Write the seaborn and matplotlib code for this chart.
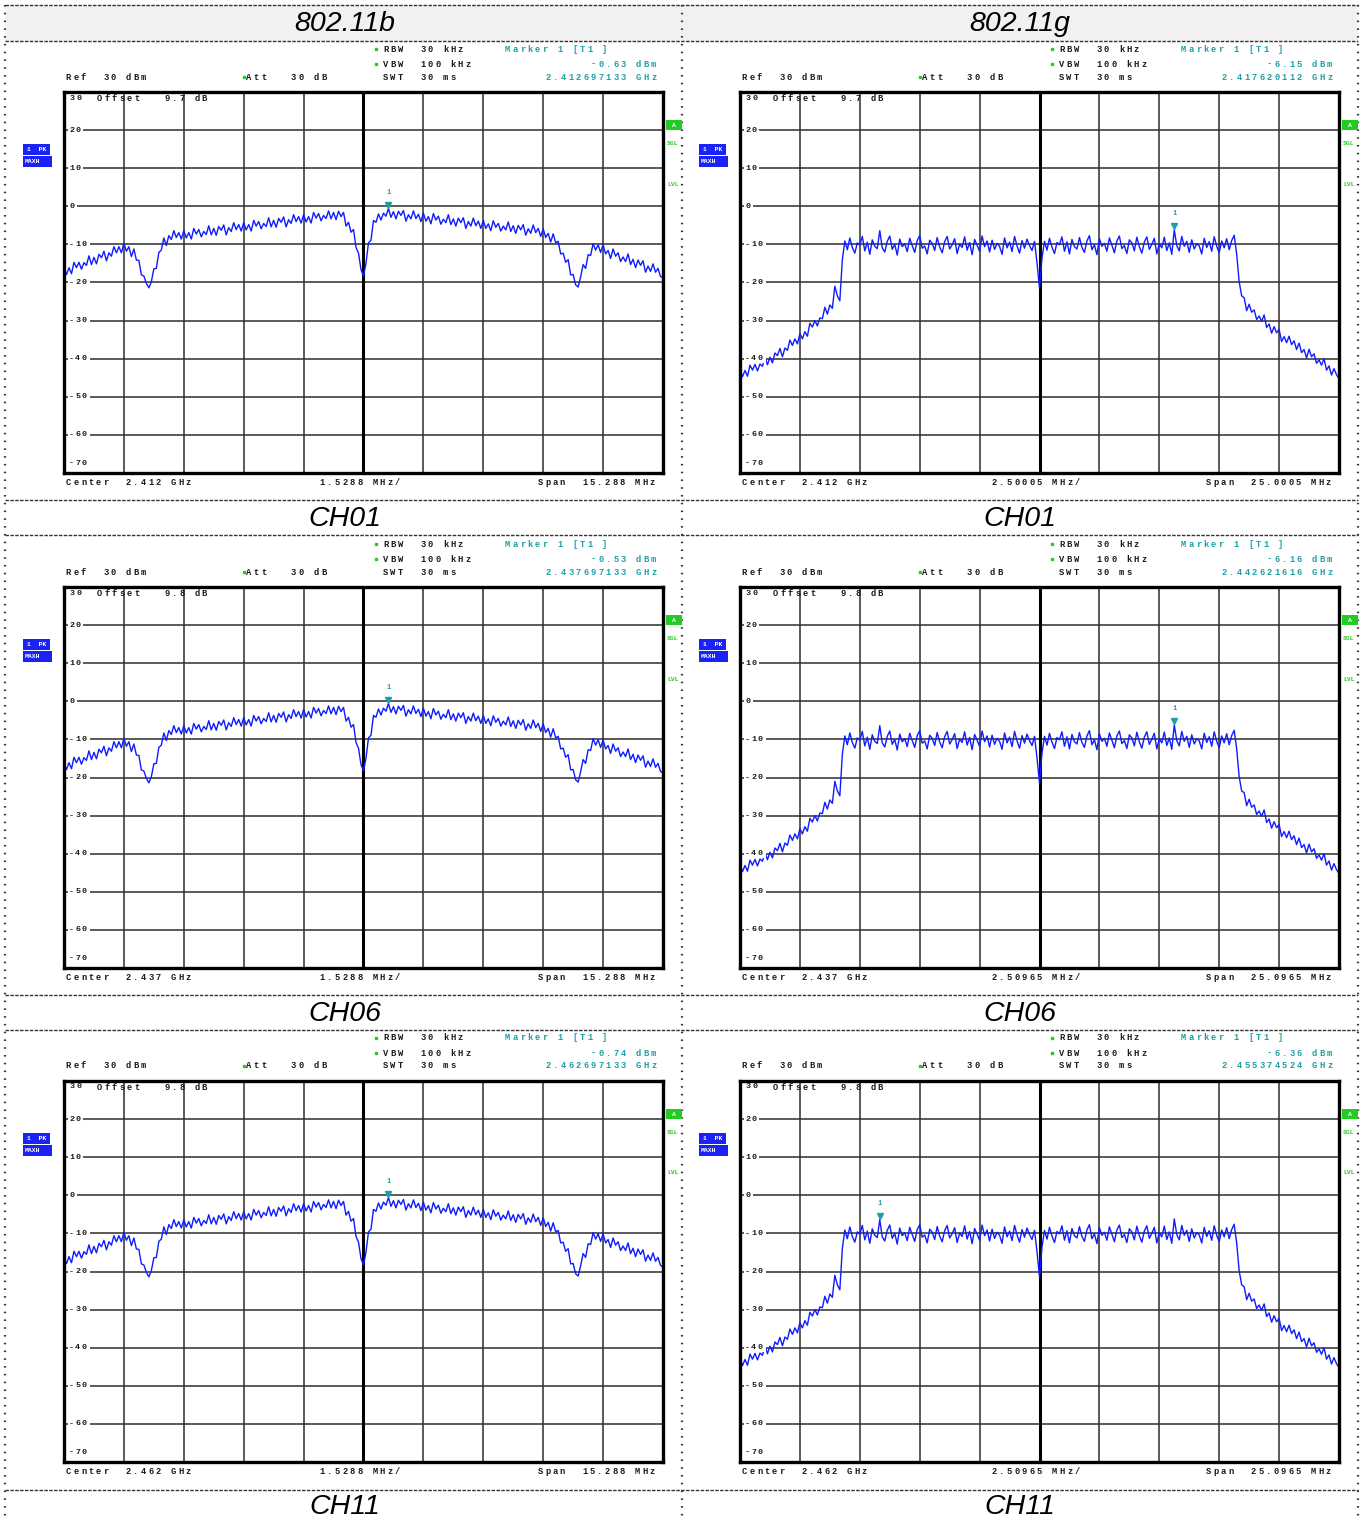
import numpy as np
import matplotlib
matplotlib.use("Agg")
import matplotlib.pyplot as plt
from matplotlib.patches import Rectangle
import seaborn as sns

sns.set_style("white")
plt.rcParams["font.family"] = ["DejaVu Sans"]

W, H = 1362, 1517

# --- data (dBm, evenly spaced over the span) ---
modes = ["802.11b", "802.11g"]
channels = ["CH01", "CH06", "CH11"]
centers = ["2.412", "2.437", "2.462"]

b_trace = [
    -16.4, -17.9, -16.1, -17.7, -14.7, -16.1, -14.7, -16.5, -14.8, -15.5,
    -13.0, -15.3, -13.4, -15.1, -12.6, -13.5, -11.8, -14.3, -12.2, -13.1,
    -10.6, -12.2, -10.6, -12.2, -9.7, -11.8, -10.6, -13.2, -11.2, -14.1,
    -14.2, -18.0, -18.3, -20.2, -21.4, -19.8, -16.4, -16.3, -12.1, -11.5,
    -8.3, -10.3, -7.7, -8.7, -6.4, -8.2, -6.9, -8.6, -6.4, -8.3,
    -6.9, -8.6, -5.8, -7.3, -6.1, -8.0, -6.6, -7.4, -5.1, -7.5,
    -5.8, -7.6, -5.3, -6.3, -4.9, -7.5, -5.6, -6.6, -4.3, -6.1,
    -4.8, -6.5, -4.3, -6.2, -4.8, -6.5, -3.7, -5.2, -4.0, -5.9,
    -4.5, -5.3, -3.0, -5.4, -3.7, -5.5, -3.2, -4.2, -2.8, -5.4,
    -3.5, -4.5, -2.2, -4.0, -2.7, -4.4, -2.2, -4.1, -2.7, -4.4,
    -1.6, -3.1, -1.9, -3.8, -2.4, -3.2, -1.2, -3.3, -1.6, -3.5,
    -1.3, -2.7, -1.6, -5.2, -4.2, -6.8, -6.1, -10.8, -12.3, -16.6,
    -18.3, -14.9, -9.6, -8.9, -3.7, -4.2, -2.0, -3.6, -1.8, -2.6,
    -0.6, -2.9, -1.4, -3.3, -1.3, -2.4, -1.1, -3.9, -2.2, -3.3,
    -1.2, -3.2, -2.1, -4.0, -1.8, -3.9, -2.7, -4.6, -1.9, -3.6,
    -2.6, -4.7, -3.4, -4.3, -2.2, -4.8, -3.3, -5.2, -3.1, -4.3,
    -3.0, -5.8, -4.0, -5.2, -3.1, -5.1, -3.9, -5.8, -3.7, -5.8,
    -4.6, -6.4, -3.8, -5.5, -4.5, -6.5, -5.2, -6.2, -4.1, -6.6,
    -5.1, -7.1, -5.0, -6.2, -4.8, -7.6, -5.9, -7.1, -4.9, -6.9,
    -5.8, -7.9, -5.9, -8.2, -7.1, -9.4, -7.2, -9.6, -9.2, -12.5,
    -12.3, -14.7, -14.0, -18.0, -17.9, -20.6, -21.2, -18.5, -15.3, -16.3,
    -12.7, -12.9, -9.8, -11.5, -10.1, -12.1, -10.1, -12.5, -11.6, -13.7,
    -11.2, -13.1, -12.2, -14.5, -13.3, -14.5, -12.5, -15.3, -13.9, -16.1,
    -14.1, -15.5, -14.3, -17.3, -15.7, -17.1, -15.1, -17.3, -16.3, -18.4,
    -18.8]

g_trace = [
    -42.9, -44.7, -43.1, -44.6, -41.7, -43.0, -41.5, -43.2, -41.4, -42.0,
    -39.5, -41.6, -39.6, -41.1, -38.5, -39.2, -37.3, -39.5, -37.2, -37.8,
    -35.1, -36.5, -34.8, -36.1, -33.4, -34.8, -32.9, -34.1, -30.7, -31.7,
    -30.0, -31.4, -29.3, -29.5, -26.5, -28.3, -25.9, -26.8, -21.0, -23.5,
    -24.8, -14.0,
    -9.1, -11.4, -8.3, -10.8, -12.3, -9.6, -10.2, -7.9, -11.7, -9.4,
    -12.6, -8.8, -10.5, -11.1, -6.4, -10.9, -12.0, -9.2, -7.8, -11.3,
    -10.0, -12.8, -8.6, -10.6, -9.8, -11.9, -8.4, -10.3, -12.1, -9.0,
    -7.7, -11.0, -10.4, -12.5, -8.9, -9.7, -11.6, -8.2, -10.7, -12.2,
    -9.3, -7.9, -11.2, -10.1, -8.5, -12.4, -9.9, -10.8, -8.0, -11.5,
    -9.5, -12.7, -8.7, -10.2, -11.8, -7.8, -10.6, -9.1, -12.0, -8.9,
    -11.3, -9.7, -10.5, -12.6, -8.3, -10.9, -9.4, -11.9, -7.9, -10.4,
    -12.3, -9.0, -11.0, -8.6, -10.3, -11.6, -9.2,
    -14.8, -21.5, -13.6,
    -9.2, -11.5, -8.4, -10.7, -12.4, -9.5, -10.1, -8.0, -11.8, -9.3,
    -12.5, -8.7, -10.6, -11.2, -8.2, -10.8, -12.1, -9.1, -7.7, -11.4,
    -10.1, -12.7, -8.5, -10.5, -9.7, -11.8, -8.3, -10.2, -12.2, -9.1,
    -7.8, -11.1, -10.3, -12.4, -8.8, -9.6, -11.7, -8.1, -10.6, -12.3,
    -9.4, -8.0, -11.3, -10.0, -8.4, -12.5, -9.8, -10.9, -8.1, -11.6,
    -9.6, -12.6, -6.2, -10.3, -11.7, -7.9, -10.5, -9.2, -12.1, -8.8,
    -11.2, -9.8, -10.4, -12.5, -8.4, -10.8, -9.3, -11.8, -8.0, -10.5,
    -12.2, -9.1, -10.9, -8.5, -11.4, -9.0,
    -7.6, -12.5, -19.8,
    -23.5, -24.0, -27.4, -25.7, -27.8, -27.2, -29.7, -28.8, -30.2, -28.5,
    -31.8, -30.9, -33.3, -31.6, -33.2, -32.3, -35.5, -34.2, -35.8, -34.1,
    -36.3, -35.3, -37.6, -35.9, -38.4, -37.6, -39.8, -37.5, -39.5, -38.7,
    -41.2, -40.3, -41.7, -40.0, -43.0, -41.9, -44.3, -42.6, -44.2, -45.2]

b_span = ["15.288", "15.288", "15.288"]
b_div = ["1.5288", "1.5288", "1.5288"]
g_span = ["25.0005", "25.0965", "25.0965"]
g_div = ["2.50005", "2.50965", "2.50965"]
offsets = ["9.7", "9.8", "9.8"]

b_mark_idx = [130, 130, 130]
g_mark_idx = [174, 174, 56]
b_mark_level = ["-0.63", "-0.53", "-0.74"]
g_mark_level = ["-6.15", "-6.16", "-6.36"]
b_mark_freq = ["2.412697133", "2.437697133", "2.462697133"]
g_mark_freq = ["2.417620112", "2.442621616", "2.455374524"]

BLUE = "#0f1cff"
TEAL = "#1c9fa6"
GREEN = "#22cc22"
INK = "#1a1a1a"

fig = plt.figure(figsize=(W / 100, H / 100), dpi=100)


def frac(x0, y0, x1, y1):
    return [x0 / W, 1 - y1 / H, (x1 - x0) / W, (y1 - y0) / H]


# background: table lines, header, captions
bg = fig.add_axes([0, 0, 1, 1])
bg.set_xlim(0, W)
bg.set_ylim(H, 0)
bg.axis("off")
bg.add_patch(Rectangle((5, 5), 1353, 36, color="#f1f1f1", lw=0))
for y in [5, 41, 500, 535, 995, 1030, 1490]:
    bg.plot([5, 1358], [y, y], color="#333333", lw=1, ls=(0, (2.5, 1)))
for x in [5, 682, 1358]:
    bg.plot([x, x], [5, H], color="#333333", lw=1.6, ls=(0, (0.7, 2.8)))

title_font = dict(ha="center", va="center", fontsize=20.5, style="italic",
                  family="Liberation Sans", color="black")
bg.text(345, 24, modes[0], **title_font)
bg.text(1020, 24, modes[1], **title_font)
for r, ch in enumerate(channels):
    for cx in [345, 1020]:
        bg.text(cx, [519, 1014, 1507][r], ch, **title_font)

tops = [92, 587, 1081]
lefts = [64, 740]
FW, FH = 599, 381

panels = []
for r in range(3):
    for c in range(2):
        L, T = lefts[c], tops[r]
        if c == 0:
            trace, span, idx = b_trace, float(b_span[r]), b_mark_idx[r]
        else:
            trace, span, idx = g_trace, float(g_span[r]), g_mark_idx[r]
        ax = fig.add_axes(frac(L, T, L + FW, T + FH))
        freq = np.linspace(-span / 2, span / 2, len(trace))
        sns.lineplot(x=freq, y=trace, ax=ax, color=BLUE, linewidth=1.0)
        ax.set_xlim(-span / 2, span / 2)
        ax.set_ylim(-70, 30)
        ax.set_xticks(np.linspace(-span / 2, span / 2, 11))
        ax.set_yticks(np.arange(-70, 31, 10))
        ax.tick_params(length=0, labelbottom=False, labelleft=False)
        ax.set_xlabel("")
        ax.set_ylabel("")
        ax.grid(True, color="#2e2e2e", lw=1.1)
        ax.axvline(0, color="black", lw=2.2, zorder=1.5)
        for s in ax.spines.values():
            s.set_linewidth(2.4)
            s.set_color("black")
        # marker 1
        ax.plot(freq[idx], trace[idx] + 0.9, marker="v", ms=5, color=TEAL, zorder=4)
        ax.text(freq[idx], trace[idx] + 4.2, "1", ha="center", va="center",
                fontsize=5, color=TEAL, family="Liberation Mono", weight="bold")
        panels.append((r, c, L, T))

# overlay for instrument text
ov = fig.add_axes([0, 0, 1, 1])
ov.set_xlim(0, W)
ov.set_ylim(H, 0)
ov.axis("off")


def mono(x, y, s, color=INK, align="left", size=6.3, pitch=7.5):
    if align == "right":
        x = x - (len(s) - 1) * pitch - 5
    for i, ch in enumerate(s):
        if ch != " ":
            ov.text(x + i * pitch + 2.5, y, ch, ha="center", va="center",
                    fontsize=size, family="Liberation Mono", weight="bold", color=color)


for r, c, L, T in panels:
    if c == 0:
        div, span = b_div[r], b_span[r]
        level, mfreq = b_mark_level[r], b_mark_freq[r]
    else:
        div, span = g_div[r], g_span[r]
        level, mfreq = g_mark_level[r], g_mark_freq[r]

    ov.plot(L + 312, T - 43, "s", ms=1.8, color=GREEN)
    ov.plot(L + 312, T - 28, "s", ms=1.8, color=GREEN)
    ov.plot(L + 180, T - 15, "s", ms=1.8, color=GREEN)
    mono(L + 319, T - 43, "RBW  30 kHz")
    mono(L + 319, T - 28, "VBW  100 kHz")
    mono(L + 319, T - 15, "SWT  30 ms")
    mono(L + 2, T - 15, "Ref  30 dBm")
    mono(L + 182, T - 15, "Att   30 dB")
    mono(L + 441, T - 43, "Marker 1 [T1 ]", color=TEAL)
    mono(L + 592, T - 28, level + " dBm", color=TEAL, align="right")
    mono(L + 592, T - 15, mfreq + " GHz", color=TEAL, align="right")

    mono(L + 6, T + 6, "30", size=6, pitch=6.2)
    mono(L + 33, T + 6, "Offset   " + offsets[r] + " dB")
    for v in range(20, -61, -10):
        y = T + (30 - v) * FH / 100
        lab = str(v)
        ov.add_patch(Rectangle((L + 4, y - 4), len(lab) * 6.2 + 3, 8,
                               color="white", lw=0, zorder=2))
        mono(L + 5, y, lab, size=6, pitch=6.2)
    mono(L + 5, T + 371, "-70", size=6, pitch=6.2)

    mono(L + 2, T + 390, "Center  " + centers[r] + " GHz")
    mono(L + (256 if c == 0 else 252), T + 390, div + " MHz/")
    mono(L + 591, T + 390, "Span  " + span + " MHz", align="right")

    # trace info boxes left of the grid
    ov.add_patch(Rectangle((L - 41, T + 52), 27, 11, color="#1a22f5", lw=0))
    ov.add_patch(Rectangle((L - 41, T + 64), 29, 11, color="#1a22f5", lw=0))
    ov.text(L - 37, T + 57.5, "1  PK", ha="left", va="center", fontsize=4.6,
            family="Liberation Mono", weight="bold", color="white")
    ov.text(L - 39, T + 69.5, "MAXH", ha="left", va="center", fontsize=4.6,
            family="Liberation Mono", weight="bold", color="white")

    # status marks right of the grid
    ov.add_patch(Rectangle((L + 602, T + 28), 16, 10, color=GREEN, lw=0))
    ov.text(L + 610, T + 33, "A", ha="center", va="center", fontsize=4.6,
            family="Liberation Mono", weight="bold", color="white")
    ov.text(L + 603, T + 51, "SGL", ha="left", va="center", fontsize=4.6,
            family="Liberation Mono", weight="bold", color=GREEN)
    ov.text(L + 603, T + 92, "LVL", ha="left", va="center", fontsize=4.6,
            family="Liberation Mono", weight="bold", color=GREEN)

fig.savefig("out.png", dpi=100)
